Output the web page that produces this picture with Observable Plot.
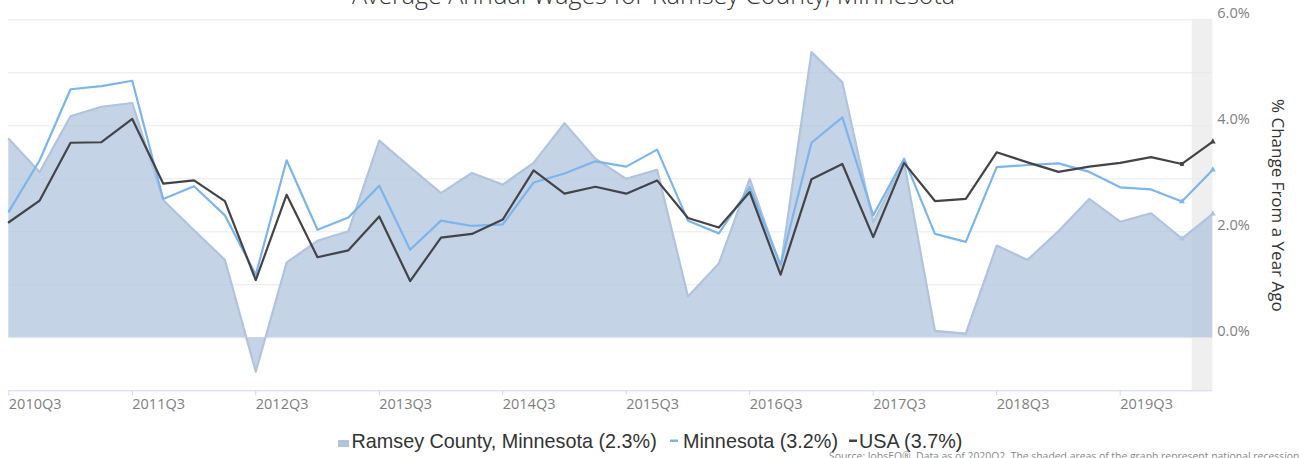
<!DOCTYPE html>
<html>
<head>
<meta charset="utf-8">
<script src="https://cdn.jsdelivr.net/npm/d3@7"></script>
<script src="https://cdn.jsdelivr.net/npm/@observablehq/plot@0.6"></script>
<style>
  html, body { margin: 0; padding: 0; background: #fff; overflow: hidden; }
  #chart { position: relative; width: 1299px; height: 458px; }
</style>
</head>
<body>
<div id="chart"></div>
<script>
// ---- data ----
const quarters = [
  "2010Q3","2010Q4","2011Q1","2011Q2","2011Q3","2011Q4","2012Q1","2012Q2",
  "2012Q3","2012Q4","2013Q1","2013Q2","2013Q3","2013Q4","2014Q1","2014Q2",
  "2014Q3","2014Q4","2015Q1","2015Q2","2015Q3","2015Q4","2016Q1","2016Q2",
  "2016Q3","2016Q4","2017Q1","2017Q2","2017Q3","2017Q4","2018Q1","2018Q2",
  "2018Q3","2018Q4","2019Q1","2019Q2","2019Q3","2019Q4","2020Q1","2020Q2"
];
const ramsey = [
  3.75, 3.13, 4.18, 4.36, 4.43, 2.60, 2.03, 1.47,
  -0.64, 1.42, 1.83, 2.01, 3.72, 3.22, 2.73, 3.11,
  2.89, 3.30, 4.05, 3.38, 3.00, 3.17, 0.78, 1.40,
  3.00, 1.33, 5.39, 4.82, 2.18, 3.32, 0.13, 0.08,
  1.74, 1.47, 2.01, 2.62, 2.19, 2.35, 1.87, 2.34
];
const minnesota = [
  2.38, 3.35, 4.69, 4.75, 4.85, 2.62, 2.86, 2.31,
  1.19, 3.35, 2.04, 2.27, 2.87, 1.66, 2.21, 2.11,
  2.14, 2.93, 3.10, 3.33, 3.23, 3.55, 2.21, 1.97,
  2.84, 1.38, 3.68, 4.16, 2.31, 3.38, 1.96, 1.81,
  3.22, 3.26, 3.29, 3.13, 2.84, 2.80, 2.57, 3.17
];
const usa = [
  2.18, 2.59, 3.68, 3.69, 4.13, 2.91, 2.97, 2.58,
  1.09, 2.70, 1.52, 1.65, 2.29, 1.07, 1.89, 1.96,
  2.23, 3.16, 2.72, 2.85, 2.72, 2.97, 2.26, 2.08,
  2.75, 1.19, 2.99, 3.28, 1.90, 3.30, 2.58, 2.62,
  3.50, 3.31, 3.13, 3.23, 3.30, 3.41, 3.28, 3.70
];
const xTickLabels = ["2010Q3","2011Q3","2012Q3","2013Q3","2014Q3","2015Q3","2016Q3","2017Q3","2018Q3","2019Q3"];
const yTickValues = [0, 2, 4, 6];
const yGridValues = [0, 1, 2, 3, 4, 5, 6];
const yDomain = [-1, 6];
const recessions = [{start: "2020-02-01", end: "2020-04-01"}];
const seriesNames = ["Ramsey County, Minnesota", "Minnesota", "USA"];
const latestValues = ["2.3%", "3.2%", "3.7%"];
const titleText = "Average Annual Wages for Ramsey County, Minnesota";
const yTitle = "% Change From a Year Ago";
const sourceText = "Source: JobsEQ®. Data as of 2020Q2. The shaded areas of the graph represent national recessions.";

// ---- derived ----
const rows = quarters.map((q, i) => ({i, q, ramsey: ramsey[i], minnesota: minnesota[i], usa: usa[i]}));
const firstYear = +quarters[0].slice(0, 4), firstQ = +quarters[0].slice(5);
const dateToIndex = s => {
  const d = new Date(s + "T00:00:00");
  return (d.getFullYear() - firstYear) * 4 + d.getMonth() / 3 - (firstQ - 1);
};
const recRows = recessions.map(r => ({x1: dateToIndex(r.start), x2: dateToIndex(r.end)}));
const xTicks = xTickLabels.map(l => quarters.indexOf(l));
const last = rows.slice(-2);

const cArea = "#b0c4de", cMn = "#7cb5ec", cUs = "#434348";

const chart = Plot.plot({
  width: 1299,
  height: 458,
  marginTop: 19.3,
  marginBottom: 67.7,
  marginLeft: 8.3,
  marginRight: 86.7,
  style: {fontFamily: "'Open Sans', sans-serif", background: "transparent", overflow: "visible"},
  x: {type: "linear", domain: [0, quarters.length - 1]},
  y: {domain: yDomain},
  marks: [
    Plot.rect(recRows, {x1: "x1", x2: "x2", y1: yDomain[0], y2: yDomain[1], fill: "#efefef"}),
    Plot.ruleY(yGridValues, {stroke: "#e9e9e9", strokeWidth: 1}),
    Plot.areaY(rows, {x: "i", y1: 0, y2: "ramsey", fill: cArea, fillOpacity: 0.75}),
    Plot.lineY(rows, {x: "i", y: "ramsey", stroke: cArea, strokeWidth: 2.2}),
    Plot.lineY(rows, {x: "i", y: "minnesota", stroke: cMn, strokeWidth: 2.2}),
    Plot.lineY(rows, {x: "i", y: "usa", stroke: cUs, strokeWidth: 2.2}),
    Plot.dot(last, {x: "i", y: "ramsey", fill: cArea, r: 2.2, symbol: "triangle"}),
    Plot.dot(last, {x: "i", y: "minnesota", fill: cMn, r: 2.2, symbol: "triangle"}),
    Plot.dot(last, {x: "i", y: "usa", fill: cUs, r: 2.2, symbol: (d, k) => k === 0 ? "square" : "triangle"}),
    Plot.ruleY([yDomain[0]], {stroke: "#ccd6eb", strokeWidth: 1}),
    Plot.axisX({ticks: xTicks, tickFormat: i => quarters[i], tickSize: 5, tickPadding: 3,
      stroke: "#ccd6eb", fill: "#808080", textAnchor: "start", fontSize: 14.5, label: null}),
    Plot.axisY({anchor: "right", ticks: yTickValues, tickFormat: d => d.toFixed(1) + "%",
      tickSize: 0, tickPadding: 4.4, dy: -6, textAnchor: "start", fill: "#808080", fontSize: 14.6, label: null}),
    Plot.text([yTitle], {frameAnchor: "right", dx: 64.4, rotate: 90, fontSize: 17, fill: "#333",
      text: d => d, textAnchor: "middle"})
  ]
});

const svg = d3.select(chart);
svg.style("position", "absolute").style("left", "0px").style("top", "0px");

// title
svg.append("text")
  .attr("x", 653.5).attr("y", 4)
  .attr("text-anchor", "middle")
  .style("font-family", "'Open Sans', sans-serif").style("font-weight", 300)
  .style("font-size", "25px").attr("fill", "#333")
  .text(titleText);

// legend
const lg = svg.append("g").attr("text-anchor", "start")
  .style("font-family", "'Liberation Sans', Arial, sans-serif")
  .style("font-size", "19.8px").attr("fill", "#333");
lg.append("rect").attr("x", 338).attr("y", 440).attr("width", 11).attr("height", 7).attr("fill", cArea);
lg.append("text").attr("text-anchor", "start").attr("x", 351.5).attr("y", 448).text(`${seriesNames[0]} (${latestValues[0]})`);
lg.append("rect").attr("x", 670).attr("y", 439.5).attr("width", 8).attr("height", 2.5).attr("fill", cMn);
lg.append("text").attr("text-anchor", "start").attr("x", 683).attr("y", 448).text(`${seriesNames[1]} (${latestValues[1]})`);
lg.append("rect").attr("x", 849).attr("y", 439.5).attr("width", 8).attr("height", 2.5).attr("fill", cUs);
lg.append("text").attr("text-anchor", "start").attr("x", 859).attr("y", 448).text(`${seriesNames[2]} (${latestValues[2]})`);

// source
svg.append("text")
  .attr("text-anchor", "start")
  .attr("x", 829).attr("y", 459.5)
  .style("font-family", "'Open Sans', sans-serif").style("font-size", "10.4px")
  .attr("fill", "#888")
  .text(sourceText);

document.getElementById("chart").appendChild(chart);
</script>
</body>
</html>
